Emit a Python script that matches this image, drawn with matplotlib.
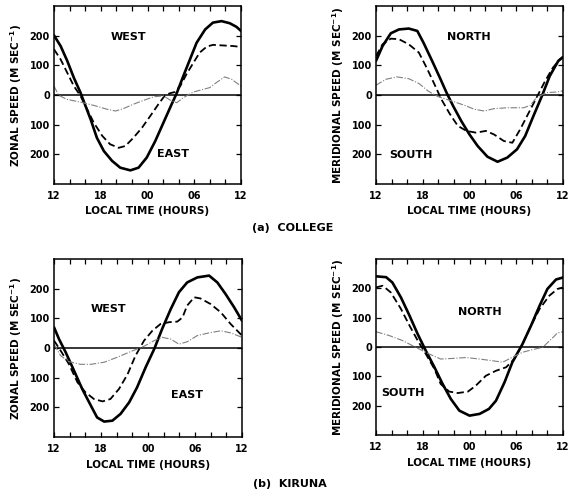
import matplotlib
matplotlib.use("Agg")
import matplotlib.pyplot as plt

# ---------------- data (local time in hours, 12 -> 36 = 12 next day) -------------
# College, zonal (m/s, + = west)
col_zon_solid_t = [12, 12.85, 13.7, 14.55, 15.4, 15.8, 16.7, 17.5, 18.4, 19.45, 20.5, 21.8, 22.85, 23.9, 25.0, 26.05, 27.1, 27.75, 28.6, 29.45, 30.3, 31.4, 32.4, 33.5, 34.55, 35.4, 36]
col_zon_solid_v = [201, 165, 115, 58, 8, -20, -82, -144, -189, -222, -245, -254, -245, -211, -155, -93, -31, 6, 64, 120, 176, 221, 244, 249, 242, 230, 216]
col_zon_dash_t = [12, 12.85, 13.7, 14.55, 15.4, 16.25, 17.1, 18.2, 19.2, 20.3, 21.15, 22.2, 23.3, 24.35, 25.4, 26.25, 26.9, 27.5, 28.2, 29.0, 29.9, 30.7, 31.6, 32.4, 33.7, 35.0, 36]
col_zon_dash_v = [154, 120, 75, 30, -3, -48, -93, -138, -166, -178, -172, -144, -110, -71, -31, -1, 6, 10, 30, 70, 109, 143, 163, 169, 167, 165, 162]
col_zon_thin_t = [12, 12.6, 13.7, 15.4, 17.1, 18.8, 19.9, 20.9, 22.2, 23.5, 24.8, 26.05, 26.9, 27.75, 28.6, 29.9, 31.15, 32.0, 32.85, 33.9, 34.8, 36]
col_zon_thin_v = [30, -1, -15, -24, -35, -48, -54, -46, -31, -18, -6, -3, -17, -26, -9, 10, 19, 25, 42, 61, 53, 30]

# College, meridional (m/s, + = north)
col_mer_solid_t = [12, 12.84, 13.9, 14.95, 16.2, 17.3, 18.1, 19.2, 20.2, 21.05, 21.9, 22.95, 24.0, 25.05, 26.3, 27.6, 28.85, 30.1, 31.15, 32.2, 33.3, 34.3, 35.4, 36]
col_mer_solid_v = [115, 165, 208, 221, 224, 216, 176, 115, 58, 8, -37, -88, -133, -172, -208, -225, -211, -183, -138, -71, -3, 64, 115, 128]
col_mer_dash_t = [12, 12.84, 13.9, 14.95, 16.2, 17.5, 18.5, 19.4, 20.4, 21.5, 22.5, 23.6, 24.85, 26.1, 27.15, 28.4, 29.5, 30.5, 31.6, 32.6, 33.7, 34.7, 35.6, 36]
col_mer_dash_v = [131, 171, 190, 188, 171, 143, 92, 42, -15, -65, -104, -121, -127, -121, -133, -155, -161, -116, -60, -9, 47, 92, 120, 128]
col_mer_thin_t = [12, 13.26, 14.7, 16.2, 17.5, 18.7, 20.0, 21.7, 23.4, 24.6, 25.9, 27.15, 28.85, 30.95, 31.8, 32.6, 33.9, 35.15, 36]
col_mer_thin_v = [33, 53, 61, 55, 39, 13, -6, -20, -35, -48, -54, -46, -43, -43, -35, -9, 8, 10, 14]

# Kiruna, zonal
kir_zon_solid_t = [12, 12.64, 13.5, 14.55, 15.6, 16.7, 17.5, 18.4, 19.45, 20.5, 21.6, 22.6, 23.7, 24.8, 25.8, 26.9, 27.95, 29.0, 30.3, 31.8, 32.85, 33.9, 35.0, 36]
kir_zon_solid_v = [70, 30, -15, -76, -138, -194, -234, -248, -245, -222, -183, -133, -65, -3, 64, 131, 188, 221, 238, 244, 221, 182, 137, 92]
kir_zon_dash_t = [12, 12.85, 13.9, 15.0, 16.0, 17.1, 18.2, 19.2, 20.3, 21.4, 22.4, 23.5, 24.55, 25.6, 26.7, 27.75, 28.4, 29.0, 29.9, 30.7, 32.0, 33.3, 34.55, 36]
kir_zon_dash_v = [25, -9, -54, -116, -149, -172, -180, -172, -138, -88, -26, 25, 58, 81, 87, 89, 103, 143, 171, 167, 148, 120, 81, 42]
kir_zon_thin_t = [12, 12.85, 13.9, 15.4, 16.7, 18.4, 20.1, 21.8, 23.5, 24.8, 25.8, 26.9, 27.95, 29.0, 30.3, 31.8, 33.3, 34.55, 36]
kir_zon_thin_v = [13, -26, -46, -55, -55, -48, -31, -12, 6, 25, 36, 30, 13, 21, 42, 51, 58, 51, 36]

# Kiruna, meridional
kir_mer_solid_t = [12, 13.3, 14.1, 15.2, 16.3, 17.35, 18.4, 19.5, 20.55, 21.6, 22.7, 24.0, 25.3, 26.5, 27.4, 28.5, 29.5, 30.8, 31.9, 33.0, 34.0, 35.1, 36]
kir_mer_solid_v = [241, 238, 220, 169, 107, 44, -13, -69, -126, -177, -217, -234, -228, -211, -183, -120, -52, 10, 73, 141, 198, 230, 237]
kir_mer_dash_t = [12, 12.86, 13.9, 15.2, 16.3, 17.35, 18.4, 19.5, 20.3, 21.4, 22.5, 23.8, 24.8, 26.1, 27.4, 28.7, 29.75, 30.8, 31.9, 33.0, 34.25, 35.3, 36]
kir_mer_dash_v = [203, 209, 186, 130, 73, 22, -24, -75, -126, -152, -157, -152, -132, -98, -81, -69, -41, 10, 73, 130, 175, 198, 203]
kir_mer_thin_t = [12, 13.7, 15.4, 17.1, 18.85, 20.3, 21.8, 23.55, 25.3, 27.0, 28.25, 29.5, 30.8, 32.1, 33.4, 34.5, 35.3, 36]
kir_mer_thin_v = [52, 39, 22, -1, -24, -41, -39, -36, -41, -47, -52, -35, -18, -9, -1, 27, 48, 52]

x_ticks = [12, 18, 24, 30, 36]
x_tick_labels = ["12", "18", "00", "06", "12"]
y_ticks = [-200, -100, 0, 100, 200]
y_tick_labels = ["200", "100", "0", "100", "200"]
x_minor = list(range(12, 37, 2))

panels = [
    dict(rect=[54/569, 1-184/495, 187/569, 178/495],
         ylabel="ZONAL SPEED (M SEC$^{\\mathbf{-1}}$)",
         series=[(col_zon_solid_t, col_zon_solid_v), (col_zon_dash_t, col_zon_dash_v), (col_zon_thin_t, col_zon_thin_v)],
         labels=[("WEST", 21.6, 197), ("EAST", 27.3, -199)]),
    dict(rect=[376/569, 1-184/495, 187/569, 178/495],
         ylabel="MERIDIONAL SPEED (M SEC$^{\\mathbf{-1}}$)",
         series=[(col_mer_solid_t, col_mer_solid_v), (col_mer_dash_t, col_mer_dash_v), (col_mer_thin_t, col_mer_thin_v)],
         labels=[("NORTH", 23.9, 194), ("SOUTH", 16.5, -202)]),
    dict(rect=[54/569, 1-437/495, 188/569, 178/495],
         ylabel="ZONAL SPEED (M SEC$^{\\mathbf{-1}}$)",
         series=[(kir_zon_solid_t, kir_zon_solid_v), (kir_zon_dash_t, kir_zon_dash_v), (kir_zon_thin_t, kir_zon_thin_v)],
         labels=[("WEST", 19.0, 131), ("EAST", 29.0, -158)]),
    dict(rect=[376/569, 1-435/495, 187/569, 176/495],
         ylabel="MERIDIONAL SPEED (M SEC$^{\\mathbf{-1}}$)",
         series=[(kir_mer_solid_t, kir_mer_solid_v), (kir_mer_dash_t, kir_mer_dash_v), (kir_mer_thin_t, kir_mer_thin_v)],
         labels=[("NORTH", 25.3, 121), ("SOUTH", 15.5, -157)]),
]

plt.rcParams['font.family'] = ['DejaVu Sans']
plt.rcParams['font.weight'] = 'bold'
plt.rcParams['mathtext.default'] = 'bf'

fig = plt.figure(figsize=(5.69, 4.95), dpi=100)

styles = [
    dict(color='black', lw=1.9, ls='-'),
    dict(color='black', lw=1.3, ls=(0, (4, 2))),
    dict(color='#808080', lw=0.8, ls=(0, (6, 1.5, 1, 1.5))),
]

for p in panels:
    ax = fig.add_axes(p['rect'])
    ax.set_xlim(12, 36)
    ax.set_ylim(-300, 300)
    ax.axhline(0, color='black', lw=1.1, zorder=1)
    for (t, v), st in zip(p['series'], styles):
        ax.plot(t, v, solid_capstyle='round', solid_joinstyle='round',
                dash_joinstyle='round', zorder=2, **st)
    for txt, x, y in p['labels']:
        ax.text(x, y, txt, ha='center', va='center', fontsize=8, fontweight='bold')
    ax.set_xticks(x_ticks)
    ax.set_xticklabels(x_tick_labels, fontsize=7, fontweight='bold')
    ax.set_xticks(x_minor, minor=True)
    ax.set_yticks(y_ticks)
    ax.set_yticklabels(y_tick_labels, fontsize=7, fontweight='bold')
    ax.tick_params(axis='both', which='both', direction='in', top=True, right=True,
                   length=3.5, width=0.9)
    ax.tick_params(axis='x', which='major', pad=5)
    ax.tick_params(axis='y', which='major', pad=3)
    ax.set_xlabel("LOCAL TIME (HOURS)", fontsize=7.5, fontweight='bold', labelpad=4)
    ax.set_ylabel(p['ylabel'], fontsize=7.5, fontweight='bold', labelpad=4)
    for s in ax.spines.values():
        s.set_linewidth(1.1)

fig.text(293/569, 1-228/495, "(a)  COLLEGE", ha='center', va='center', fontsize=8, fontweight='bold')
fig.text(290/569, 1-484/495, "(b)  KIRUNA", ha='center', va='center', fontsize=8, fontweight='bold')

fig.savefig("out.png", dpi=100)
